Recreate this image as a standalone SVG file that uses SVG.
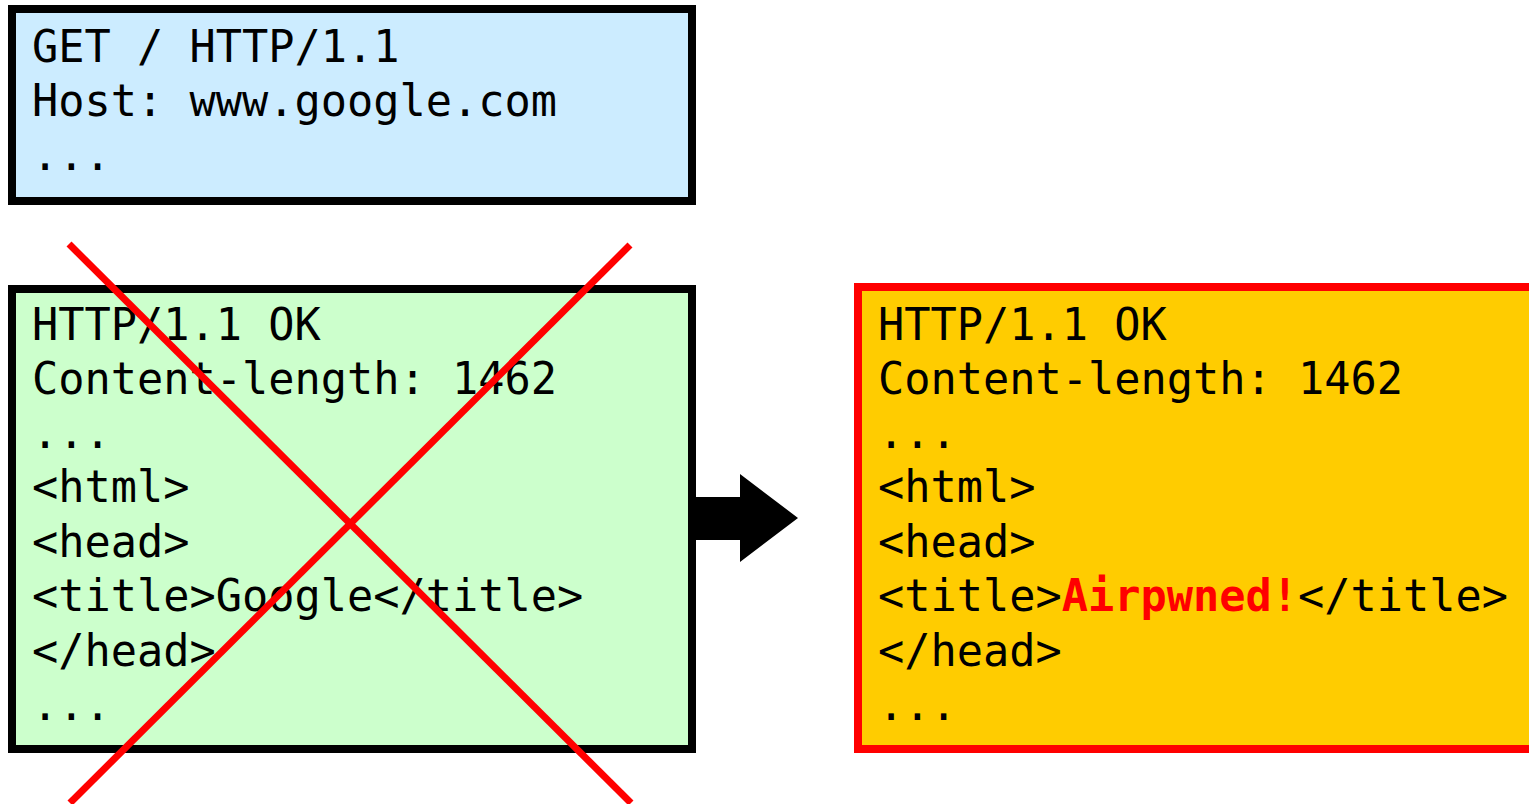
<svg xmlns="http://www.w3.org/2000/svg" width="1529" height="804" viewBox="0 0 1529 804">
<style>
.box{stroke-width:8}
.t{font-family:Consolas,"DejaVu Sans Mono","Liberation Mono",monospace;font-size:43.6px;fill:#000}
.hl{font-weight:bold;fill:#FF0000}
.x{stroke:#FF0000;stroke-width:7;fill:none}
</style>
<rect width="1529" height="804" fill="#fff"/>
<g id="request">
<rect class="box" x="12" y="9" width="680" height="192" fill="#CCECFF" stroke="#000"/>
<text class="t" x="32" y="62">GET / HTTP/1.1</text>
<text class="t" x="32" y="116">Host: www.google.com</text>
<text class="t" x="32" y="170">...</text>
</g>
<g id="real-response">
<rect class="box" x="12" y="289" width="680" height="460" fill="#CCFFCC" stroke="#000"/>
<text class="t" x="32" y="340">HTTP/1.1 OK</text>
<text class="t" x="32" y="394">Content-length: 1462</text>
<text class="t" x="32" y="448">...</text>
<text class="t" x="32" y="502">&lt;html&gt;</text>
<text class="t" x="32" y="557">&lt;head&gt;</text>
<text class="t" x="32" y="611">&lt;title&gt;Google&lt;/title&gt;</text>
<text class="t" x="32" y="666">&lt;/head&gt;</text>
<text class="t" x="32" y="720">...</text>
</g>
<g id="spoofed-response">
<rect class="box" x="858" y="287" width="700" height="462" fill="#FFCC00" stroke="#FF0000"/>
<text class="t" x="878" y="340">HTTP/1.1 OK</text>
<text class="t" x="878" y="394">Content-length: 1462</text>
<text class="t" x="878" y="448">...</text>
<text class="t" x="878" y="502">&lt;html&gt;</text>
<text class="t" x="878" y="557">&lt;head&gt;</text>
<text class="t" x="878" y="611">&lt;title&gt;<tspan class="hl">Airpwned!</tspan>&lt;/title&gt;</text>
<text class="t" x="878" y="666">&lt;/head&gt;</text>
<text class="t" x="878" y="720">...</text>
</g>
<g id="connectors">
<polygon points="696,497 740,497 740,474 798,518 740,562 740,540 696,540" fill="#000"/>
<line class="x" x1="69" y1="244" x2="631" y2="803"/>
<line class="x" x1="630" y1="245" x2="70" y2="803"/>
</g>
</svg>
